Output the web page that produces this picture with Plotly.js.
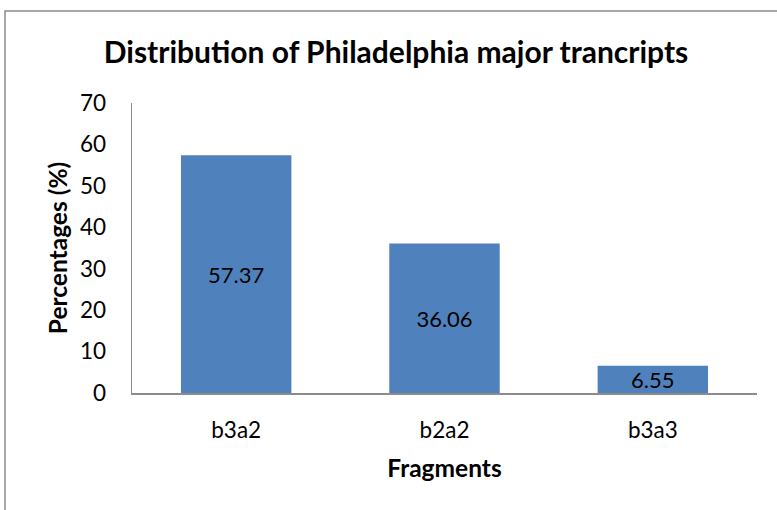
<!DOCTYPE html>
<html>
<head>
<meta charset="utf-8">
<script src="https://cdn.plot.ly/plotly-3.0.1.min.js"></script>
<style>
  html, body { margin: 0; padding: 0; background: #fff; overflow: hidden; }
  #chart { width: 777px; height: 510px; }
</style>
</head>
<body>
<div id="chart"></div>
<script>
const categories = ["b3a2", "b2a2", "b3a3"];
const percentages = [57.37, 36.06, 6.55];
const labels = ["57.37", "36.06", "6.55"];
const yTicks = [0, 10, 20, 30, 40, 50, 60, 70];

const FONT = "Lato, 'Open Sans', 'Liberation Sans', sans-serif";

const trace = {
  type: "bar",
  x: categories,
  y: percentages,
  text: labels,
  textposition: "inside",
  insidetextanchor: "middle",
  constraintext: "none",
  textfont: { family: FONT, size: 22, color: "#000" },
  marker: { color: "#4F81BD", line: { width: 0 } },
  hoverinfo: "none",
  cliponaxis: false
};

const layout = {
  width: 777,
  height: 510,
  margin: { l: 132, r: 20, t: 103, b: 117, pad: 0 },
  paper_bgcolor: "#fff",
  plot_bgcolor: "#fff",
  showlegend: false,
  bargap: 0.47,
  font: { family: FONT, color: "#000" },
  title: {
    text: "Distribution of Philadelphia major trancripts",
    font: { family: FONT, size: 30, weight: "bold", color: "#000" },
    x: 396 / 777,
    xanchor: "center",
    xref: "container",
    y: 1 - 52 / 510,
    yanchor: "middle",
    yref: "container"
  },
  xaxis: {
    type: "category",
    showline: true,
    linecolor: "#8c8c8c",
    linewidth: 1.5,
    ticks: "",
    showgrid: false,
    zeroline: false,
    tickfont: { family: FONT, size: 22.5, color: "#000" },
    ticklabelstandoff: 16,
    title: {
      text: "Fragments",
      font: { family: FONT, size: 24.5, weight: "bold", color: "#000" },
      standoff: 18
    }
  },
  yaxis: {
    range: [0, 70],
    tickvals: yTicks,
    ticktext: yTicks.map(String),
    showline: true,
    linecolor: "#8c8c8c",
    linewidth: 1.5,
    ticks: "",
    showgrid: false,
    zeroline: false,
    tickfont: { family: FONT, size: 22.5, color: "#000" },
    ticklabelstandoff: 20,
    title: {
      text: "Percentages (%)",
      font: { family: FONT, size: 24.5, weight: "bold", color: "#000" },
      standoff: 5
    }
  },
  shapes: [{
    type: "rect",
    xref: "paper", yref: "paper",
    x0: (5 - 132) / 625, x1: 1.2,
    y0: -0.6, y1: (393 - 11) / 290,
    line: { color: "#8c8c8c", width: 1.5 },
    fillcolor: "rgba(0,0,0,0)",
    layer: "below"
  }]
};

Plotly.newPlot("chart", [trace], layout, { staticPlot: true, displayModeBar: false });
</script>
</body>
</html>
